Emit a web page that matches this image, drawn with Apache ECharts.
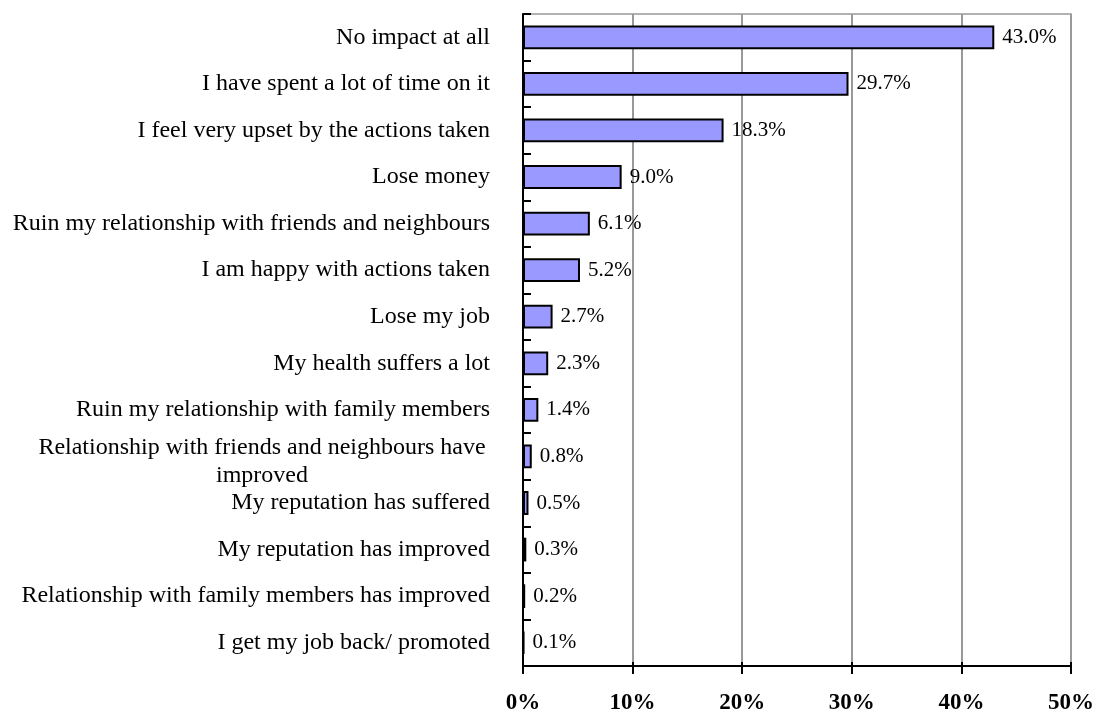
<!DOCTYPE html>
<html>
<head>
<meta charset="utf-8">
<script src="https://cdn.jsdelivr.net/npm/echarts@6/dist/echarts.min.js"></script>
<style>html,body{margin:0;padding:0;background:#fff;}#c{width:1097px;height:715px;}</style>
</head>
<body>
<div id="c"></div>
<script>
const categories = [
  "No impact at all",
  "I have spent a lot of time on it",
  "I feel very upset by the actions taken",
  "Lose money",
  "Ruin my relationship with friends and neighbours",
  "I am happy with actions taken",
  "Lose my job",
  "My health suffers a lot",
  "Ruin my relationship with family members",
  "Relationship with friends and neighbours have\nimproved",
  "My reputation has suffered",
  "My reputation has improved",
  "Relationship with family members has improved",
  "I get my job back/ promoted"
];
const values = [43.0, 29.7, 18.3, 9.0, 6.1, 5.2, 2.7, 2.3, 1.4, 0.8, 0.5, 0.3, 0.2, 0.1];
const xTicks = [0, 10, 20, 30, 40, 50];

const font = '"Liberation Serif", "Times New Roman", serif';
const chart = echarts.init(document.getElementById('c'));
const gridH = 655;
chart.setOption({
  animation: false,
  grid: { left: 523, top: 14, right: 26, bottom: 46, show: true, borderColor: '#999', borderWidth: 1.5 },
  xAxis: [{
    type: 'value', min: xTicks[0], max: xTicks[xTicks.length - 1], interval: 10,
    axisLine: { show: true, lineStyle: { color: '#000', width: 2 } },
    axisTick: { show: true, length: 8, lineStyle: { color: '#000', width: 2 } },
    splitLine: { show: true, lineStyle: { color: '#999', width: 2 } },
    axisLabel: { formatter: v => v + '%', fontFamily: font, fontWeight: 'bold', fontSize: 23, color: '#000', margin: 26 }
  }, {
    type: 'value', position: 'top', offset: -gridH, min: xTicks[0], max: xTicks[xTicks.length - 1], interval: 10,
    axisLine: { show: false },
    axisTick: { show: true, length: 7, lineStyle: { color: '#000', width: 2 } },
    splitLine: { show: false }, axisLabel: { show: false }
  }],
  yAxis: {
    type: 'category', data: categories, inverse: true,
    axisLine: { show: true, lineStyle: { color: '#000', width: 2 } },
    axisTick: { show: true, inside: true, length: 8, lineStyle: { color: '#000', width: 2 } },
    axisLabel: {
      margin: 33, color: '#000', fontFamily: font, fontSize: 24,
      formatter: function (v) {
        if (v.indexOf('\n') >= 0) {
          return v.split('\n').map(s => '{c|' + s + '}').join('\n');
        }
        return v;
      },
      rich: {
        c: { width: 456, align: 'center', fontFamily: font, fontSize: 24, color: '#000', lineHeight: 28, padding: [10, 0, 0, 0] }
      }
    }
  },
  series: [{
    type: 'bar', data: values, xAxisIndex: 0, barWidth: '51%',
    itemStyle: { color: '#9999FF', borderColor: '#000', borderWidth: 2 },
    label: { show: true, position: 'right', distance: 8, formatter: p => p.value.toFixed(1) + '%', fontFamily: font, fontSize: 21, color: '#000' }
  }]
});
</script>
</body>
</html>
